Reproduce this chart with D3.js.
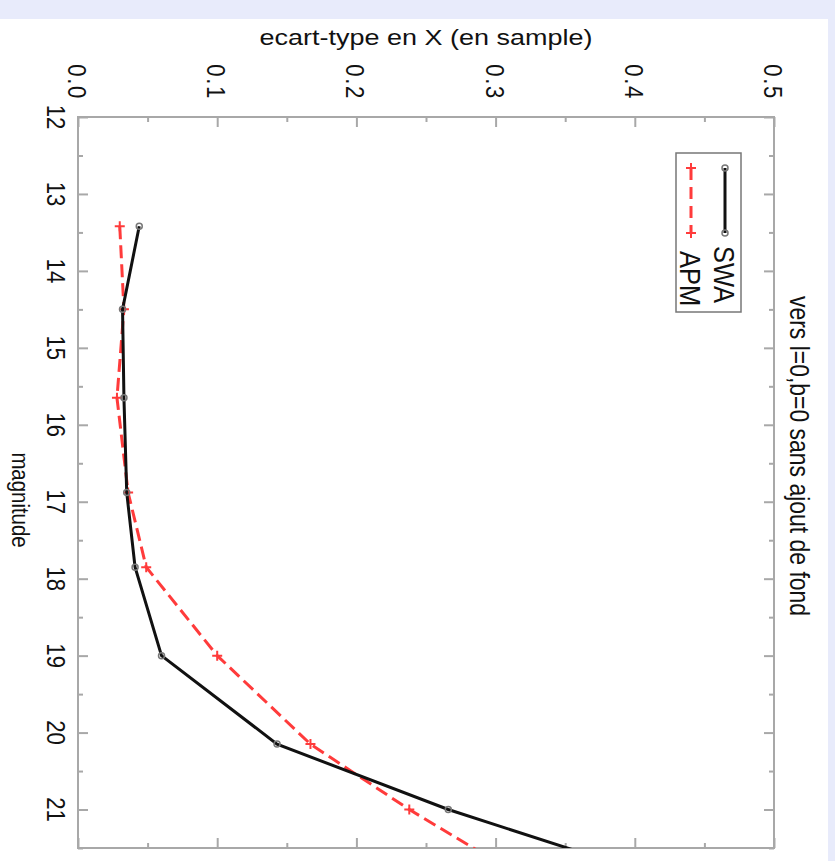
<!DOCTYPE html>
<html>
<head>
<meta charset="utf-8">
<script src="https://cdnjs.cloudflare.com/ajax/libs/d3/7.8.5/d3.min.js"></script>
<style>
html,body{margin:0;padding:0;background:#e8ebfb;}
svg{display:block;}
text{font-family:"Liberation Sans",Arial,Helvetica,sans-serif;fill:#111;}
</style>
</head>
<body>
<svg id="chart" width="835" height="861"></svg>
<script>
// ---- data ----
const magnitudes = [13.42, 14.5, 15.65, 16.88, 17.85, 19.0, 20.15, 21.0, 22.0];
const swaValues  = [0.044, 0.032, 0.033, 0.035, 0.041, 0.060, 0.143, 0.266, 0.437];
const apmValues  = [0.030, 0.033, 0.028, 0.036, 0.049, 0.100, 0.167, 0.238, 0.330];
const seriesNames = ["SWA", "APM"];
const magTicks = [12, 13, 14, 15, 16, 17, 18, 19, 20, 21];
const magMinorTicks = [12.5, 13.5, 14.5, 15.5, 16.5, 17.5, 18.5, 19.5, 20.5, 21.5];
const valTicks = [0.0, 0.1, 0.2, 0.3, 0.4, 0.5];
const valTickLabels = ["0.0", "0.1", "0.2", "0.3", "0.4", "0.5"];
const valMinorTicks = [0.05, 0.15, 0.25, 0.35, 0.45];
const valueTitle = "ecart-type en X (en sample)";
const magTitle = "magnitude";
const plotTitle = "vers l=0,b=0 sans ajout de fond";

// ---- layout ----
const W = 835, H = 861;
const L = 78, R = 774, T = 117, B = 848;
const SQ = 0.85;          // vertical squeeze of the picture
const FS = 26;            // tick font size

const svg = d3.select("#chart");
svg.append("rect").attr("x",0).attr("y",0).attr("width",W).attr("height",H).attr("fill","#e8ebfb");
svg.append("rect").attr("x",0).attr("y",19).attr("width",828).attr("height",H-19).attr("fill","#ffffff");

const y = d3.scaleLinear().domain([12, 21.5]).range([T, B]);
const x = d3.scaleLinear().domain([0, 0.5]).range([L, R]);

svg.append("clipPath").attr("id","clip").append("rect")
  .attr("x",L).attr("y",T).attr("width",R-L).attr("height",B-T);

const axisColor = "#a8a8a8";
function styleAxis(g){
  g.select(".domain").remove();
  g.selectAll("line").attr("stroke",axisColor).attr("stroke-width",2);
  g.selectAll("text").remove();
}
svg.append("g").attr("transform",`translate(${L},0)`)
  .call(d3.axisRight(y).tickValues(magTicks).tickSize(10).tickFormat("")).call(styleAxis);
svg.append("g").attr("transform",`translate(${L},0)`)
  .call(d3.axisRight(y).tickValues(magMinorTicks).tickSize(5).tickFormat("")).call(styleAxis);
svg.append("g").attr("transform",`translate(${R},0)`)
  .call(d3.axisLeft(y).tickValues(magTicks).tickSize(10).tickFormat("")).call(styleAxis);
svg.append("g").attr("transform",`translate(${R},0)`)
  .call(d3.axisLeft(y).tickValues(magMinorTicks).tickSize(5).tickFormat("")).call(styleAxis);
svg.append("g").attr("transform",`translate(0,${T})`)
  .call(d3.axisBottom(x).tickValues(valTicks).tickSize(10).tickFormat("")).call(styleAxis);
svg.append("g").attr("transform",`translate(0,${T})`)
  .call(d3.axisBottom(x).tickValues(valMinorTicks).tickSize(5).tickFormat("")).call(styleAxis);
svg.append("g").attr("transform",`translate(0,${B})`)
  .call(d3.axisTop(x).tickValues(valTicks).tickSize(10).tickFormat("")).call(styleAxis);
svg.append("g").attr("transform",`translate(0,${B})`)
  .call(d3.axisTop(x).tickValues(valMinorTicks).tickSize(5).tickFormat("")).call(styleAxis);

svg.append("rect").attr("x",L).attr("y",T).attr("width",R-L).attr("height",B-T)
  .attr("fill","none").attr("stroke",axisColor).attr("stroke-width",2);

// tick labels (rotated)
svg.append("g").selectAll("text").data(magTicks).join("text")
  .attr("transform", d => `translate(47,${y(d)}) scale(1,${SQ}) rotate(90)`)
  .attr("text-anchor","middle").attr("font-size",FS).text(d => d);
svg.append("g").selectAll("text").data(valTicks).join("text")
  .attr("transform", d => `translate(${x(d)-10},100) scale(1,${SQ}) rotate(90)`)
  .attr("text-anchor","end").attr("font-size",FS).attr("letter-spacing",2)
  .text((d,i) => valTickLabels[i]);

// titles
svg.append("text").attr("transform",`translate(${(L+R)/2},45) scale(1,${SQ})`)
  .attr("text-anchor","middle").attr("font-size",27).text(valueTitle);
svg.append("text").attr("transform",`translate(12,500) scale(1,${SQ}) rotate(90)`)
  .attr("text-anchor","middle").attr("font-size",24).text(magTitle);
svg.append("text").attr("transform",`translate(790,456) scale(1,${SQ}) rotate(90)`)
  .attr("text-anchor","middle").attr("font-size",27).text(plotTitle);

// series
const swaData = magnitudes.map((m,i) => ({m, v: swaValues[i]}));
const apmData = magnitudes.map((m,i) => ({m, v: apmValues[i]}));
const line = d3.line().x(d => x(d.v)).y(d => y(d.m));
const plot = svg.append("g").attr("clip-path","url(#clip)");

plot.append("path").datum(apmData).attr("d", line)
  .attr("fill","none").attr("stroke","#ff3b3b").attr("stroke-width",3).attr("stroke-dasharray","13,6");
plot.append("g").selectAll("path").data(apmData).join("path")
  .attr("d", d => `M${x(d.v)-5},${y(d.m)}h10M${x(d.v)},${y(d.m)-5}v10`)
  .attr("stroke","#ff3b3b").attr("stroke-width",2);

plot.append("path").datum(swaData).attr("d", line)
  .attr("fill","none").attr("stroke","#111").attr("stroke-width",3);
plot.append("g").selectAll("circle").data(swaData).join("circle")
  .attr("cx", d => x(d.v)).attr("cy", d => y(d.m)).attr("r",3)
  .attr("fill","none").attr("stroke","#777").attr("stroke-width",1.5);

// legend
const lg = svg.append("g");
lg.append("rect").attr("x",676).attr("y",153).attr("width",65).attr("height",159)
  .attr("fill","#fff").attr("stroke","#777").attr("stroke-width",1.5);
lg.append("line").attr("x1",725).attr("x2",725).attr("y1",168).attr("y2",233)
  .attr("stroke","#111").attr("stroke-width",3);
[168,233].forEach(yy => lg.append("circle").attr("cx",725).attr("cy",yy).attr("r",3)
  .attr("fill","none").attr("stroke","#777").attr("stroke-width",1.5));
lg.append("text").attr("transform",`translate(714,246) scale(1,${SQ}) rotate(90)`)
  .attr("font-size",30).text(seriesNames[0]);
lg.append("line").attr("x1",691).attr("x2",691).attr("y1",168).attr("y2",233)
  .attr("stroke","#ff3b3b").attr("stroke-width",3).attr("stroke-dasharray","12,7");
[168,233].forEach(yy => lg.append("path")
  .attr("d",`M686,${yy}h10M691,${yy-5}v10`).attr("stroke","#ff3b3b").attr("stroke-width",2));
lg.append("text").attr("transform",`translate(680,251) scale(1,${SQ}) rotate(90)`)
  .attr("font-size",30).text(seriesNames[1]);
</script>
</body>
</html>
